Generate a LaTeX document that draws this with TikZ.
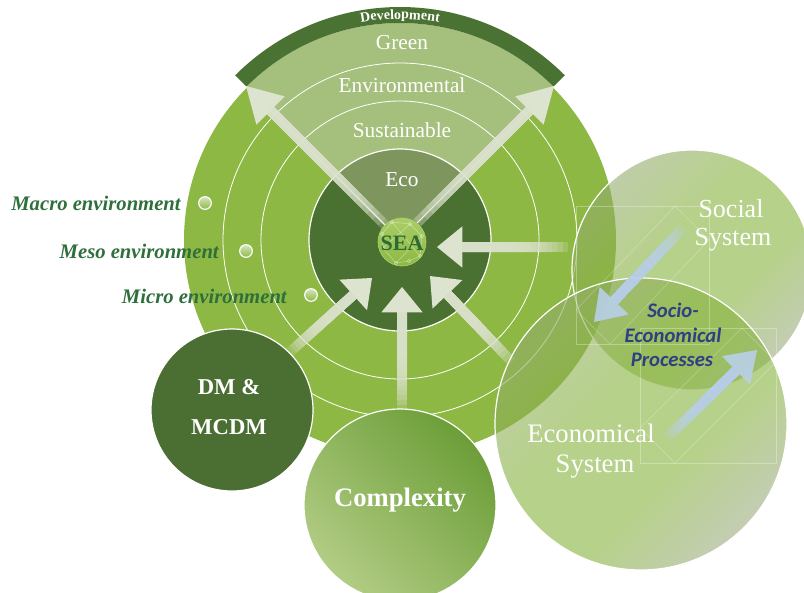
\documentclass[tikz,border=0pt]{standalone}
\usepackage{fontspec}
\setmainfont{Liberation Serif}
\newfontfamily\procfont{Carlito}
\usetikzlibrary{calc,decorations.text}
\definecolor{bigg}{HTML}{8DB843}
\definecolor{darkg}{HTML}{4B7132}
\definecolor{ecog}{HTML}{7F955E}
\definecolor{secg}{HTML}{A5C07C}
\definecolor{bandg}{HTML}{4A7232}
\definecolor{dmg}{HTML}{4B6E33}
\definecolor{cxdark}{HTML}{6C9E38}
\definecolor{cxlight}{HTML}{B2CC84}
\definecolor{sysgray}{HTML}{9AAA7E}
\definecolor{sysgreen}{HTML}{86B23C}
\definecolor{sysgrayb}{HTML}{A3AA96}
\definecolor{labelg}{HTML}{2F6F3B}
\definecolor{arrowl}{HTML}{DCE3CE}
\definecolor{arrowb}{HTML}{B9D0E8}
\definecolor{procblue}{HTML}{2F3F84}
\definecolor{seatext}{HTML}{2E6A34}
\definecolor{sealight}{HTML}{A9CE66}
\definecolor{dotlight}{HTML}{D6E6BC}
\pgfdeclareverticalshading{sysshade}{100bp}{color(0bp)=(sysgrayb); color(20bp)=(sysgrayb); color(40bp)=(sysgreen); color(58bp)=(sysgreen); color(80bp)=(sysgray); color(100bp)=(sysgray)}
% fat arrow: #1 tail, #2 tip, #3 colour options, #4 shaft width, #5 head length, #6 head half width
\newcommand\fatarrow[6]{%
  \coordinate (hb) at ($(#2)!#5!(#1)$);
  \foreach \nn in {0,...,14}{%
    \pgfmathsetmacro\fa{\nn/14*0.7}%
    \draw[#3, line width=#4, draw opacity=0.23] ($(#1)!\fa!(hb)$) -- (hb);
  }%
  \fill[#3] (#2) -- ($(hb)!#6!90:(#2)$) -- ($(hb)!#6!-90:(#2)$) -- cycle;
}
\begin{document}
\begin{tikzpicture}[x=0.75pt,y=-0.75pt,
  ringtxt/.style={text=white, font=\fontsize{16}{18}\selectfont, inner sep=0},
  envlbl/.style={text=labelg, font=\fontsize{15.5}{18}\selectfont\bfseries\itshape, inner sep=0, anchor=east},
  systxt/.style={text=white, font=\fontsize{19.5}{22}\selectfont, inner sep=0},
  proctxt/.style={text=procblue, font=\procfont\fontsize{15.5}{18}\selectfont\bfseries\itshape, inner sep=0},
  dotmark/.style={circle, draw=white, line width=0.9pt, top color=dotlight, bottom color=bigg, minimum size=9.5pt, inner sep=0},
  faintline/.style={draw=white, draw opacity=0.3, line width=0.4pt},
  netline/.style={draw=white, draw opacity=0.45, line width=0.35pt},
  sysdisc/.style={shading=sysshade, shading angle=45, fill opacity=0.6},
]
\useasboundingbox (0,0) rectangle (804,593);
\coordinate (C) at (400,240);
% big circle
\fill[bigg] (C) circle[radius=216];
% development sector
\fill[secg] (C) -- ($(C)+(225:217)$) arc[start angle=225,end angle=315,radius=217] -- cycle;
\fill[bandg] ($(C)+(225:217)$) arc[start angle=225,end angle=315,radius=217]
   -- ($(C)+(315:233)$) arc[start angle=315,end angle=225,radius=233] -- cycle;
\path[decorate, decoration={text along path, text align=center, text color=white,
   text={|\fontsize{10.5}{10.5}\selectfont\bfseries|Development}}]
   ($(C)+(225:221)$) arc[start angle=225,end angle=315,radius=221];
% rings
\draw[white, line width=0.6pt] (C) circle[radius=139];
\draw[white, line width=0.6pt] (C) circle[radius=177];
% inner circle
\fill[darkg] (C) circle[radius=91];
\fill[ecog] (C) -- ($(C)+(225:91)$) arc[start angle=225,end angle=315,radius=91] -- cycle;
\draw[white, line width=0.9pt] (C) circle[radius=91];
\coordinate (cornerL) at ($(C)+(225:217)$);
\coordinate (cornerR) at ($(C)+(315:217)$);
\draw[white, line width=0.8pt] (cornerL) -- (C) -- (cornerR);
% ring texts
\node[ringtxt] (tgreen) at (402,43) {Green};
\node[ringtxt] (tenv) at (402,85) {Environmental};
\node[ringtxt] (tsus) at (402,130) {Sustainable};
\node[ringtxt] (teco) at (402,180) {Eco};
% top arrows
\coordinate (tlA) at (388,228); \coordinate (tlB) at (246,86);
\coordinate (trA) at (412,228); \coordinate (trB) at (554,86);
\fatarrow{tlA}{tlB}{arrowl}{7.5pt}{26pt}{15pt}
\fatarrow{trA}{trB}{arrowl}{7.5pt}{26pt}{15pt}
% inward arrows
\coordinate (rA) at (568,247); \coordinate (rB) at (437,247);
\coordinate (bA) at (402,410); \coordinate (bB) at (402,287);
\coordinate (blA) at (290,352); \coordinate (blB) at (372,278);
\coordinate (brA) at (512,362); \coordinate (brB) at (430,276);
\fatarrow{rA}{rB}{arrowl}{7.5pt}{19pt}{15.5pt}
\fatarrow{bA}{bB}{arrowl}{7.5pt}{19pt}{15.5pt}
\fatarrow{blA}{blB}{arrowl}{7.5pt}{19pt}{15.5pt}
\fatarrow{brA}{brB}{arrowl}{7.5pt}{19pt}{15.5pt}
% SEA
\node[circle, minimum size=36pt, inner sep=0, top color=sealight, bottom color=bigg, draw=sealight, line width=0.5pt] (sea) at (402,242) {};
\foreach \p/\q in {-10/-20, 8/-18, 20/-6, -19/6, 18/14, -6/21, 7/19, -20/-8}{
  \draw[netline] ($(sea)+(\p,\q)$) circle[radius=1.8];
}
\draw[netline] ($(sea)+(-10,-20)$) -- ($(sea)+(8,-18)$) -- ($(sea)+(20,-6)$) -- ($(sea)+(18,14)$) -- ($(sea)+(7,19)$) -- ($(sea)+(-6,21)$) -- ($(sea)+(-19,6)$) -- ($(sea)+(-20,-8)$) -- cycle;
\draw[netline] ($(sea)+(8,-18)$) -- ($(sea)+(-19,6)$);
\draw[netline] ($(sea)+(-10,-20)$) -- ($(sea)+(18,14)$);
\draw[netline] ($(sea)+(20,-6)$) -- ($(sea)+(-6,21)$);
\node[text=seatext, font=\fontsize{16.5}{18}\selectfont\bfseries, inner sep=0] (seatxt) at (402,243) {SEA};
% environment dots and labels
\node[dotmark] (dmacro) at (205,203) {};
\node[dotmark] (dmeso) at (246,251) {};
\node[dotmark] (dmicro) at (311,295) {};
\node[envlbl] (lmacro) at (181,203) {Macro environment};
\node[envlbl] (lmeso) at (219,251) {Meso environment};
\node[envlbl] (lmicro) at (287,296) {Micro environment};
% DM circle
\node[circle, fill=dmg, draw=white, line width=0.9pt, minimum size=121.5pt, inner sep=0] (dm) at (232,410) {};
\node[text=white, font=\fontsize{17}{20}\selectfont\bfseries, inner sep=0] (dmt1) at (229,387) {DM \&};
\node[text=white, font=\fontsize{17}{20}\selectfont\bfseries, inner sep=0] (dmt2) at (229,427) {MCDM};
% Complexity
\node[circle, top color=cxdark, bottom color=cxlight, shading angle=-45, draw=white, line width=0.9pt, minimum size=144pt, inner sep=0] (cx) at (400,505) {};
\node[text=white, font=\fontsize{20}{22}\selectfont\bfseries, inner sep=0] (cxt) at (400,500) {Complexity};
% Social system
\shade[sysdisc] (692,270) circle[radius=120];
\draw[white, line width=0.9pt] (692,270) circle[radius=120];
% Economical system
\shade[sysdisc] (641,424) circle[radius=146];
\draw[white, line width=0.9pt] (641,424) circle[radius=146];
% faint frames
\draw[faintline] (576,206) rectangle (709,344);
\draw[faintline] (675,206) -- (709,240) -- (610,344) -- (576,310) -- cycle;
\draw[faintline] (640,328) rectangle (776,463);
\draw[faintline] (742,328) -- (776,362) -- (675,463) -- (640,428) -- cycle;
% blue arrows
\coordinate (s1A) at (683,228); \coordinate (s1B) at (594,322);
\coordinate (s2A) at (668,437); \coordinate (s2B) at (757,350);
\fatarrow{s1A}{s1B}{arrowb, fill opacity=0.9}{7.5pt}{22pt}{15pt}
\fatarrow{s2A}{s2B}{arrowb, fill opacity=0.9}{7.5pt}{22pt}{15pt}
% system texts
\node[systxt] (soc1) at (731,209) {Social};
\node[systxt] (soc2) at (733,240) {System};
\node[systxt, font=\fontsize{20}{22}\selectfont] (eco1) at (591,433) {Economical};
\node[systxt, font=\fontsize{20}{22}\selectfont] (eco2) at (595,467) {System};
\node[proctxt] (pr1) at (673,310) {Socio-};
\node[proctxt] (pr2) at (673,335) {Economical};
\node[proctxt] (pr3) at (672,360) {Processes};
\end{tikzpicture}
\end{document}
